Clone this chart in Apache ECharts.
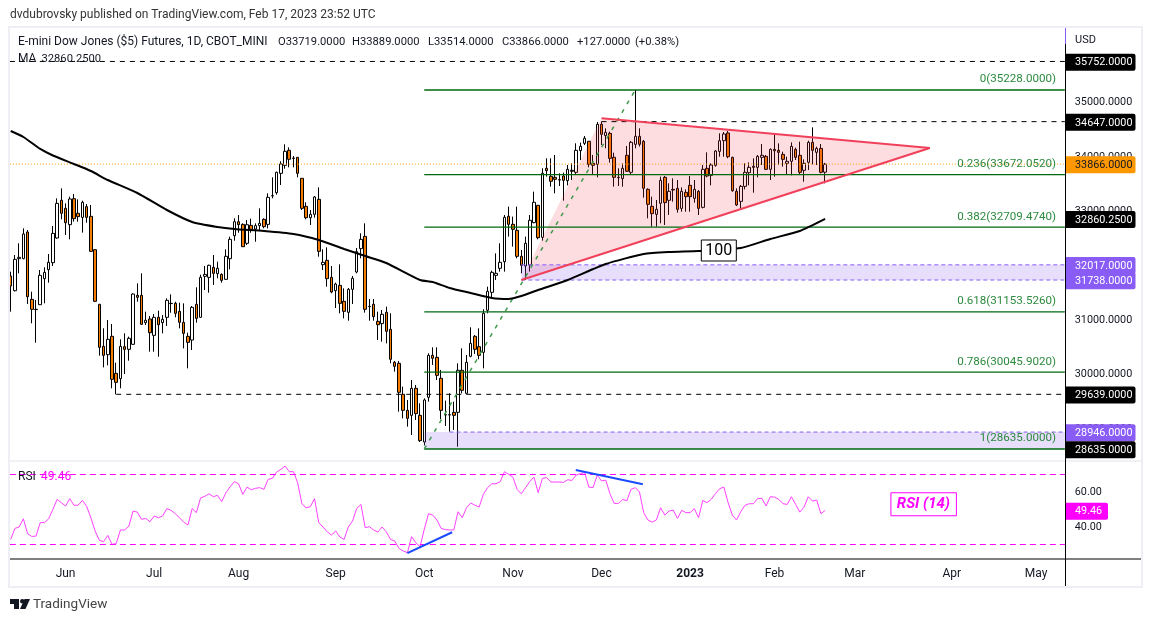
<!DOCTYPE html>
<html><head><meta charset="utf-8">
<style>html,body{margin:0;padding:0;background:#fff}#c{width:1151px;height:622px}</style>
<script src="https://cdn.jsdelivr.net/npm/echarts@6/dist/echarts.min.js"></script>
</head><body><div id="c"></div>
<script>
// [open, close, low, high] per daily bar
const candles = [
[31812,31628,31157,31891],[31542,32118,31530,32198],[32130,32155,31861,32412],[32130,32583,32120,32687],[32620,31432,31298,32657],
[31383,31200,30943,31524],[31200,31195,30587,31371],[31285,31824,31280,31922],[31763,31879,31310,31971],[31928,32063,31689,32216],
[32057,32595,31996,32730],[32510,33146,32498,33238],[33202,32963,32853,33422],[33055,32791,32565,33146],[32755,33226,32485,33269],
[33232,32865,32810,33318],[32963,32902,32810,33220],[32889,33165,32608,33195],[33085,32889,32791,33134],[32908,32265,32255,33116],
[32295,31347,31340,32300],[31292,30502,30349,31298],[30520,30355,30134,30851],[30367,30649,30171,31004],[30704,29914,29749,30930],
[30024,29859,29639,30220],[29926,30520,29749,30649],[30514,30465,30012,30759],[30465,30667,30257,30698],[30557,31481,30551,31493],
[31457,31420,31340,31677],[31457,30924,30912,31861],[30955,30998,30912,31157],[31022,30771,30422,31077],[30722,31053,30422,31114],
[31053,30918,30330,31175],[30955,31016,30759,31096],[31053,31365,30894,31402],[31305,31310,31138,31475],[31310,31126,31053,31340],
[31163,30961,30851,31322],[30961,30759,30483,31310],[30704,30593,30116,30771],[30636,31236,30453,31261],[31292,31034,30955,31604],
[31053,31787,31045,31836],[31806,31842,31555,31996],[31787,32008,31506,32020],[31971,31861,31647,32198],[31855,31953,31769,32075],
[31842,31732,31689,31861],[31751,32173,31745,32302],[32130,32485,31934,32534],[32552,32809,32460,32871],[32809,32754,32607,32932],
[32760,32350,32345,32779],[32412,32754,32381,32840],[32742,32669,32607,32865],[32675,32736,32442,32779],[32736,32779,32657,33055],
[32853,32718,32687,32871],[32760,33257,32687,33330],[33283,33287,33238,33624],[33342,33716,33306,33728],[33697,33869,33483,33918],
[33844,34102,33783,34230],[34120,33955,33808,34175],[33979,33973,33808,34016],[33991,33697,33624,33995],[33606,33055,33024,33610],
[33091,32883,32853,33165],[32883,32945,32748,33024],[32945,33263,32883,33281],[33220,32265,32167,33440],[32020,32063,31922,32302],
[32100,31763,31616,32338],[31787,31518,31494,31996],[31543,31665,31224,31689],[31640,31310,31126,32026],[31347,31163,31034,31585],
[31145,31567,30991,31591],[31567,31769,31298,31812],[31885,32259,31861,32326],[32314,32485,32136,32596],[32540,31200,31139,32779],
[31255,31250,30991,31390],[31292,31065,30991,31390],[30979,30918,30636,31157],[30937,31108,30606,31188],[31145,30796,30575,31249],
[30833,30282,30208,31127],[30227,30153,30055,30251],[30208,29676,29320,30251],[29639,29345,29198,29780],[29345,29198,29045,29535],
[29253,29749,28892,29902],[29749,29284,29167,29810],[29253,28788,28763,29474],[28763,29535,28700,29565],[29584,30355,29504,30392],
[30355,30300,30178,30502],[30318,29988,29902,30502],[29933,29345,29180,30086],[29265,29260,29057,29523],[29265,29260,28953,29657],
[29308,29253,28984,29504],[29308,30080,28678,30208],[30080,29712,29657,30484],[29657,30227,29650,30361],[30337,30575,30318,30869],
[30704,30465,30380,30729],[30514,30355,30282,30851],[30410,31127,30116,31200],[31182,31531,31127,31616],[31512,31879,31402,31910],
[31824,31861,31739,32228],[31953,32063,31892,32412],[32075,32890,31892,32933],[32908,32761,32535,33086],[32761,32669,32351,32902],
[32651,32173,32137,33086],[32173,32008,31861,32290],[31996,32412,31739,32535],[32014,32835,31892,32933],[32792,33165,32780,33361],
[33110,32516,32486,33116],[32522,33698,32461,33790],[33790,33747,33637,33973],[33643,33551,33453,33973],[33624,33588,33330,34035],
[33581,33575,33465,33698],[33649,33569,33196,33710],[33563,33771,33477,33851],[33753,33735,33575,33881],[33716,34120,33667,34249],
[34114,34194,33943,34261],[34249,34341,34218,34383],[34286,33863,33808,34292],[33881,33845,33667,34035],[33863,34598,33624,34640],
[34598,34414,34218,34647],[34390,34451,34157,34524],[34432,33973,33894,34463],[33992,33624,33453,34077],[33624,33618,33465,33790],
[33600,33790,33453,33881],[34028,33735,33722,34200],[33716,34267,33679,34292],[34230,34377,34157,35228],[34377,34230,34188,34524],
[34286,33422,33251,34310],[33404,33128,32871,33422],[33092,32957,32718,33269],[32945,33037,32718,33208],[33147,33569,32780,33637],
[33624,33159,32749,33649],[33202,33367,32933,33514],[33403,33391,33177,33605],[33422,33036,32975,33575],[33054,33367,32993,33440],
[33348,33269,32993,33403],[33477,33269,32993,33648],[33238,33403,33158,33575],[33367,33054,32932,33391],[33073,33771,33054,33850],
[33789,33648,33624,34083],[33660,33850,33477,33881],[33844,34107,33820,34126],[34101,34297,34003,34432],[34297,34420,34003,34456],
[34438,34003,33973,34475],[33991,33379,33360,34003],[33367,33116,33097,33422],[33183,33458,33036,33483],[33458,33716,33403,33881],
[33709,33807,33477,33899],[33826,33807,33342,33973],[33807,34009,33624,34034],[33991,34028,33850,34236],[34009,33771,33758,34034],
[33771,34138,33575,34156],[34138,34113,33636,34413],[34120,34083,33850,34248],[34046,33954,33820,34095],[33881,33918,33685,34003],
[33918,34193,33660,34266],[34138,33991,33942,34169],[34028,33716,33666,34279],[33752,33881,33544,33954],[33899,34266,33758,34297],
[34266,34120,33862,34542],[34083,34156,33850,34187],[34156,33716,33697,34236],[33719,33866,33514,33889]
];
const rsiValues = [
32.9,39.2,40.0,44.7,36.2,34.6,34.8,42.5,42.5,44.7,50.1,55.8,53.9,52.0,56.2,52.4,52.5,55.2,51.8,45.3,37.7,32.4,31.6,35.2,30.1,30.5,38.3,38.3,40.5,49.1,
48.5,44.4,44.9,43.0,46.3,45.3,46.3,50.5,49.5,47.6,45.3,42.8,41.1,50.6,48.2,56.7,57.5,59.0,57.3,58.1,54.5,59.6,63.0,65.9,64.7,58.6,62.8,61.3,62.1,62.5,
61.5,67.2,67.8,71.4,72.9,74.8,71.6,71.6,65.3,53.3,51.0,51.6,56.2,42.5,40.0,37.3,35.4,37.7,34.3,32.9,40.0,43.4,50.6,52.9,39.6,40.2,38.3,37.1,40.0,37.3,
32.9,32.0,27.8,26.3,25.3,34.5,31.0,28.7,38.6,47.6,46.8,44.0,39.2,38.5,38.3,38.3,48.7,45.3,51.0,53.7,52.5,51.4,58.6,62.5,64.7,64.7,65.9,71.6,70.1,68.5,
61.5,59.0,62.5,65.9,68.5,59.6,67.8,68.2,65.7,65.7,65.7,65.5,67.0,66.6,69.7,70.5,71.2,62.8,62.5,69.7,66.3,66.8,59.0,53.5,53.5,55.8,55.0,61.5,62.5,60.0,
48.2,44.0,42.8,44.0,51.0,46.8,49.1,49.7,44.9,49.5,48.2,48.2,50.5,45.3,55.2,53.9,55.8,59.0,61.9,62.8,53.9,46.8,44.0,48.7,52.4,53.3,53.3,56.2,56.4,52.0,
57.3,57.1,55.8,53.3,52.9,57.3,52.9,48.5,51.4,57.3,54.8,55.4,47.6,49.46
];
const maBars = [0,3,7,10,15,19,23,30,37,43,49,53,60,67,73,79,84,89,97,100,104,109,114,118,121,125,132,141,150,156,163,173,180,187,193];
const maValues = [34475,34365,34145,34025,33869,33740,33575,33336,33024,32804,32712,32675,32638,32583,32473,32308,32179,32051,31739,31702,31592,31500,31408,31390,31445,31555,31739,32032,32216,32253,32271,32326,32492,32639,32860];

const tickLabels = ['Jun','Jul','Aug','Sep','Oct','Nov','Dec','2023','Feb','Mar','Apr','May'];
const tickBars = [13,34,54,77,98,119,140,161,181,200,223,243];

const priceMin = 28000, priceMax = 36000, priceStep = 1000;
const rsiMin = 20, rsiMax = 80, rsiStep = 20;
const barSlots = 251;
const lastBar = 249.8;

const blackLevels = [35752,34647,29639];
const blackStarts = [-0.2,140,25];
const fibLevels = [35228,33672.052,32709.474,31153.526,30045.902,28635];
const fibTexts = ['0(35228.0000)','0.236(33672.0520)','0.382(32709.4740)','0.618(31153.5260)','0.786(30045.9020)','1(28635.0000)'];
const fibStart = 98;
const fibRayBars = [98,148];
const fibRayValues = [28635,35228];
const lastClose = 33866;
const zoneTops = [32017,28946];
const zoneBottoms = [31738,28635];
const zoneStarts = [121,98];
const zoneDashStarts = [121,104];
const triBars = [121,140,217.8];
const triValues = [31738,34708,34163];
const rsiBands = [70,30];
const rsiTrendBars = [[94,104.6],[133.9,149.8]];
const rsiTrendValues = [[25.1,37.0],[72.6,64.4]];
const axisTagValues = [35752,34647,33866,32860.25,32017,31738,29639,28946,28635];
const axisTagTexts = ['35752.0000','34647.0000','33866.0000','32860.2500','32017.0000','31738.0000','29639.0000','28946.0000','28635.0000'];
const axisTagKinds = ['k','k','o','k','p','p','k','p','k'];
const maTagBar = 167.8, maTagValue = 32280, maTagText = '100';
const rsiTagBar = 216.4, rsiTagValue = 53, rsiTagText = 'RSI (14)';
const rsiLastText = '49.46', rsiLast = 49.46;
const headerName = 'E-mini Dow Jones ($5) Futures, 1D, CBOT_MINI';
const headerParts = ['O33719.0000','H33889.0000','L33514.0000','C33866.0000','+127.0000','(+0.38%)'];
const headerPartX = [278,352,428,502,577,635];
const publishedLine = 'dvdubrovsky published on TradingView.com, Feb 17, 2023 23:52 UTC';

const FONT = 'Roboto, sans-serif';
const INK = '#131722';
const categories = Array.from({length:barSlots},()=> '');
tickBars.forEach((b,k)=>{categories[b]=tickLabels[k];});

function seg(name,bars,vals,color,width,type,axis,z){
  return {name,type:'line',xAxisIndex:axis===1?3:1,yAxisIndex:axis===1?1:0,
    data:bars.map((b,k)=>[b,vals[k]]),symbol:'none',silent:true,z:z||3,clip:false,animation:false,
    lineStyle:{color,width,type:type||'solid'}};
}
const series = [];
series.push({name:'candles',type:'candlestick',xAxisIndex:0,yAxisIndex:0,data:candles,barWidth:3,z:2,
  itemStyle:{color:'#ffffff',color0:'#f57c00',borderColor:'#000',borderColor0:'#000',borderColorDoji:'#000',borderWidth:1},silent:true});
series.push({type:'custom',xAxisIndex:1,yAxisIndex:0,data:[[0,0]],silent:true,z:3,renderItem(p,api){
  return {type:'polygon',shape:{points:triBars.map((b,k)=>api.coord([b,triValues[k]]))},style:{fill:'rgba(242,54,69,0.17)'}};
}});
series.push({type:'custom',xAxisIndex:1,yAxisIndex:0,data:zoneTops.map((v,k)=>[k,v]),silent:true,z:3,renderItem(p,api){
  const k=p.dataIndex; const a=api.coord([zoneStarts[k],zoneTops[k]]), b=api.coord([lastBar,zoneBottoms[k]]);
  return {type:'rect',shape:{x:a[0],y:a[1],width:b[0]-a[0],height:b[1]-a[1]},style:{fill:'rgba(136,90,240,0.2)'}};
}});
zoneTops.forEach((v,k)=>{
  series.push(seg('zt'+k,[zoneDashStarts[k],lastBar],[v,v],'#8a5cf6',1,[4,3]));
  if(k===0) series.push(seg('zb'+k,[zoneDashStarts[k],lastBar],[zoneBottoms[k],zoneBottoms[k]],'#8a5cf6',1,[4,3]));
});
blackLevels.forEach((v,k)=>series.push(seg('lvl'+k,[blackStarts[k],lastBar],[v,v],'#000',1,[5,5])));
fibLevels.forEach((v,k)=>series.push(seg('fib'+k,[fibStart,lastBar],[v,v],'#00680f',1.3,'solid')));
series.push(seg('ray',fibRayBars,fibRayValues,'#3f9a4c',1.5,[4,6]));
series.push(seg('close',[-0.2,lastBar],[lastClose,lastClose],'#ff9800',1,[1,2]));
series.push(seg('triTop',[triBars[1],triBars[2]],[triValues[1],triValues[2]],'#f1405a',2,'solid',0,4));
series.push(seg('triLow',[triBars[0],triBars[2]],[triValues[0],triValues[2]],'#f1405a',2,'solid',0,4));
series.push(Object.assign(seg('ma',maBars,maValues,'#000',2,'solid',0,4),{smooth:0.2}));
series.push({type:'custom',xAxisIndex:1,yAxisIndex:0,data:fibLevels.map((v,k)=>[k,v]),silent:true,z:6,renderItem(p,api){
  const k=p.dataIndex; const c=api.coord([lastBar,fibLevels[k]]);
  return {type:'text',style:{x:1056,y:c[1]-10.5,text:fibTexts[k],fill:'#2c8a3e',font:'11.6px '+FONT,textAlign:'right',textVerticalAlign:'middle'}};
}});
series.push({type:'custom',xAxisIndex:1,yAxisIndex:0,data:[[maTagBar,maTagValue]],silent:true,z:7,renderItem(p,api){
  const c=api.coord([maTagBar,maTagValue]);
  return {type:'group',children:[
    {type:'rect',shape:{x:c[0]-17.5,y:c[1]-10.5,width:35,height:21},style:{fill:'#fff',stroke:'#000',lineWidth:1}},
    {type:'text',style:{x:c[0],y:c[1],text:maTagText,fill:'#000',font:'16px '+FONT,textAlign:'center',textVerticalAlign:'middle'}}]};
}});
const tagFill={k:'#000',o:'#ff9800',p:'#8a5cf6'}, tagInk={k:'#fff',o:INK,p:'#fff'};
series.push({type:'custom',xAxisIndex:1,yAxisIndex:0,data:axisTagValues.map((v,k)=>[k,v]),silent:true,z:8,renderItem(p,api){
  const k=p.dataIndex; const c=api.coord([lastBar,axisTagValues[k]]); const kind=axisTagKinds[k];
  return {type:'group',children:[
    {type:'rect',shape:{x:1065.5,y:c[1]-7.8,width:70,height:17,r:[0,2,2,0]},style:{fill:tagFill[kind]}},
    {type:'text',style:{x:1075,y:c[1]+1.2,text:axisTagTexts[k],fill:tagInk[kind],font:'10.8px '+FONT,textVerticalAlign:'middle'}}]};
}});
series.push({name:'rsi',type:'line',xAxisIndex:2,yAxisIndex:1,data:rsiValues,symbol:'none',silent:true,z:3,lineStyle:{color:'#ff40ff',width:1}});
rsiBands.forEach((v,k)=>series.push(seg('band'+k,[-0.2,lastBar],[v,v],'#ff00ff',1,[6,4],1)));
rsiTrendBars.forEach((b,k)=>series.push(seg('trend'+k,b,rsiTrendValues[k],'#1a4bff',2,'solid',1,4)));
series.push({type:'custom',xAxisIndex:3,yAxisIndex:1,data:[[rsiTagBar,rsiTagValue]],silent:true,z:7,renderItem(p,api){
  const c=api.coord([rsiTagBar,rsiTagValue]);
  return {type:'group',children:[
    {type:'rect',shape:{x:c[0]-33,y:c[1]-11.5,width:65.5,height:23},style:{fill:'#fff',stroke:'#ff00ff',lineWidth:1}},
    {type:'text',style:{x:c[0]-0.5,y:c[1],text:rsiTagText,fill:'#ff00ff',font:'italic bold 15px '+FONT,textAlign:'center',textVerticalAlign:'middle'}}]};
}});
series.push({type:'custom',xAxisIndex:3,yAxisIndex:1,data:[[lastBar,rsiLast]],silent:true,z:8,renderItem(p,api){
  const c=api.coord([lastBar,rsiLast]);
  return {type:'group',children:[
    {type:'rect',shape:{x:1065.5,y:c[1]-7.8,width:42.5,height:17,r:[0,2,2,0]},style:{fill:'#ff00ff'}},
    {type:'text',style:{x:1075,y:c[1]+1.2,text:rsiLastText,fill:'#fff',font:'10.8px '+FONT,textVerticalAlign:'middle'}}]};
}});

const frame='#eeeef4';
const txt=(x,y,text,fill,font)=>({type:'text',z:60,silent:true,style:{x,y,text,fill,font:font+' '+FONT,textVerticalAlign:'middle'}});
const graphic={elements:[
  {type:'rect',z:50,silent:true,shape:{x:0,y:26,width:10,height:562},style:{fill:'#fff'}},
  {type:'rect',z:51,silent:true,shape:{x:8,y:26,width:2,height:562},style:{fill:frame}},
  {type:'rect',z:51,silent:true,shape:{x:8,y:26,width:1135,height:2},style:{fill:frame}},
  {type:'rect',z:51,silent:true,shape:{x:1141,y:26,width:2,height:562},style:{fill:frame}},
  {type:'rect',z:51,silent:true,shape:{x:8,y:586,width:1135,height:2},style:{fill:frame}},
  {type:'rect',z:49,silent:true,shape:{x:10,y:460.5,width:1131,height:1},style:{fill:'#e2e3ea'}},
  {type:'rect',z:49,silent:true,shape:{x:10,y:558.5,width:1131,height:1},style:{fill:'#000'}},
  {type:'rect',z:49,silent:true,shape:{x:1065,y:44,width:1,height:542},style:{fill:'#000'}},
  {type:'rect',z:49,silent:true,shape:{x:1065,y:28,width:1,height:16},style:{fill:'#8a5cf6'}},
  txt(10,15,publishedLine,'#333','12px'),
  txt(18,42,headerName,INK,'12px'),
  ...headerParts.map((t,k)=>txt(headerPartX[k],42,t,INK,'11.2px')),
  txt(18,59,'MA',INK,'12px'),
  txt(41.5,59,'32860.2500',INK,'11.2px'),
  txt(1075,40,'USD',INK,'11px'),
  txt(18,477,'RSI',INK,'12px'),
  txt(41,477,'49.46','#ff00ff','12px'),
  {type:'polygon',z:60,silent:true,shape:{points:[[10,599],[19,599],[19,609],[14,609],[14,604],[10,604]]},style:{fill:INK}},
  {type:'circle',z:60,silent:true,shape:{cx:22.3,cy:601.3,r:2.3},style:{fill:INK}},
  {type:'polygon',z:60,silent:true,shape:{points:[[30,599],[25.5,609],[20,609],[24.5,599]]},style:{fill:INK}},
  txt(33,604.5,'TradingView','#444','13.5px')
]};

const chart=echarts.init(document.getElementById('c'),null,{renderer:'canvas',width:1151,height:622});
chart.setOption({
  animation:false,backgroundColor:'#fff',tooltip:{show:false},legend:{show:false},
  grid:[
    {left:8.6,top:47.96,width:1059.2,height:435.6,containLabel:false},
    {left:8.6,top:457,width:1059.2,height:105,containLabel:false}
  ],
  xAxis:[
    {type:'category',gridIndex:0,data:categories,show:false,boundaryGap:true},
    {type:'value',gridIndex:0,min:-0.5,max:barSlots-0.5,show:false},
    {type:'category',gridIndex:1,data:categories,boundaryGap:true,position:'bottom',
      axisLine:{show:false},axisTick:{show:false},splitLine:{show:false},
      axisLabel:{show:true,margin:6,hideOverlap:false,interval:(i)=>categories[i]!=='',color:INK,fontFamily:FONT,fontSize:12,
        formatter:(v)=>v==='2023'?'{y|2023}':v,rich:{y:{fontWeight:'bold',fontFamily:FONT,fontSize:12,color:INK}}}},
    {type:'value',gridIndex:1,min:-0.5,max:barSlots-0.5,show:false}
  ],
  yAxis:[
    {type:'value',gridIndex:0,min:priceMin,max:priceMax,interval:priceStep,position:'right',
      axisLine:{show:false},axisTick:{show:false},splitLine:{show:false},
      axisLabel:{margin:7,padding:[2,0,0,0],color:INK,fontFamily:FONT,fontSize:10.8,formatter:(v)=>(v===priceMin||v===priceMax)?'':v.toFixed(4)}},
    {type:'value',gridIndex:1,min:rsiMin,max:rsiMax,interval:rsiStep,position:'right',
      axisLine:{show:false},axisTick:{show:false},splitLine:{show:false},
      axisLabel:{margin:7,padding:[2,0,0,0],color:INK,fontFamily:FONT,fontSize:10.8,formatter:(v)=>(v===rsiMin||v===rsiMax)?'':v.toFixed(2)}}
  ],
  series,graphic
});
</script></body></html>
